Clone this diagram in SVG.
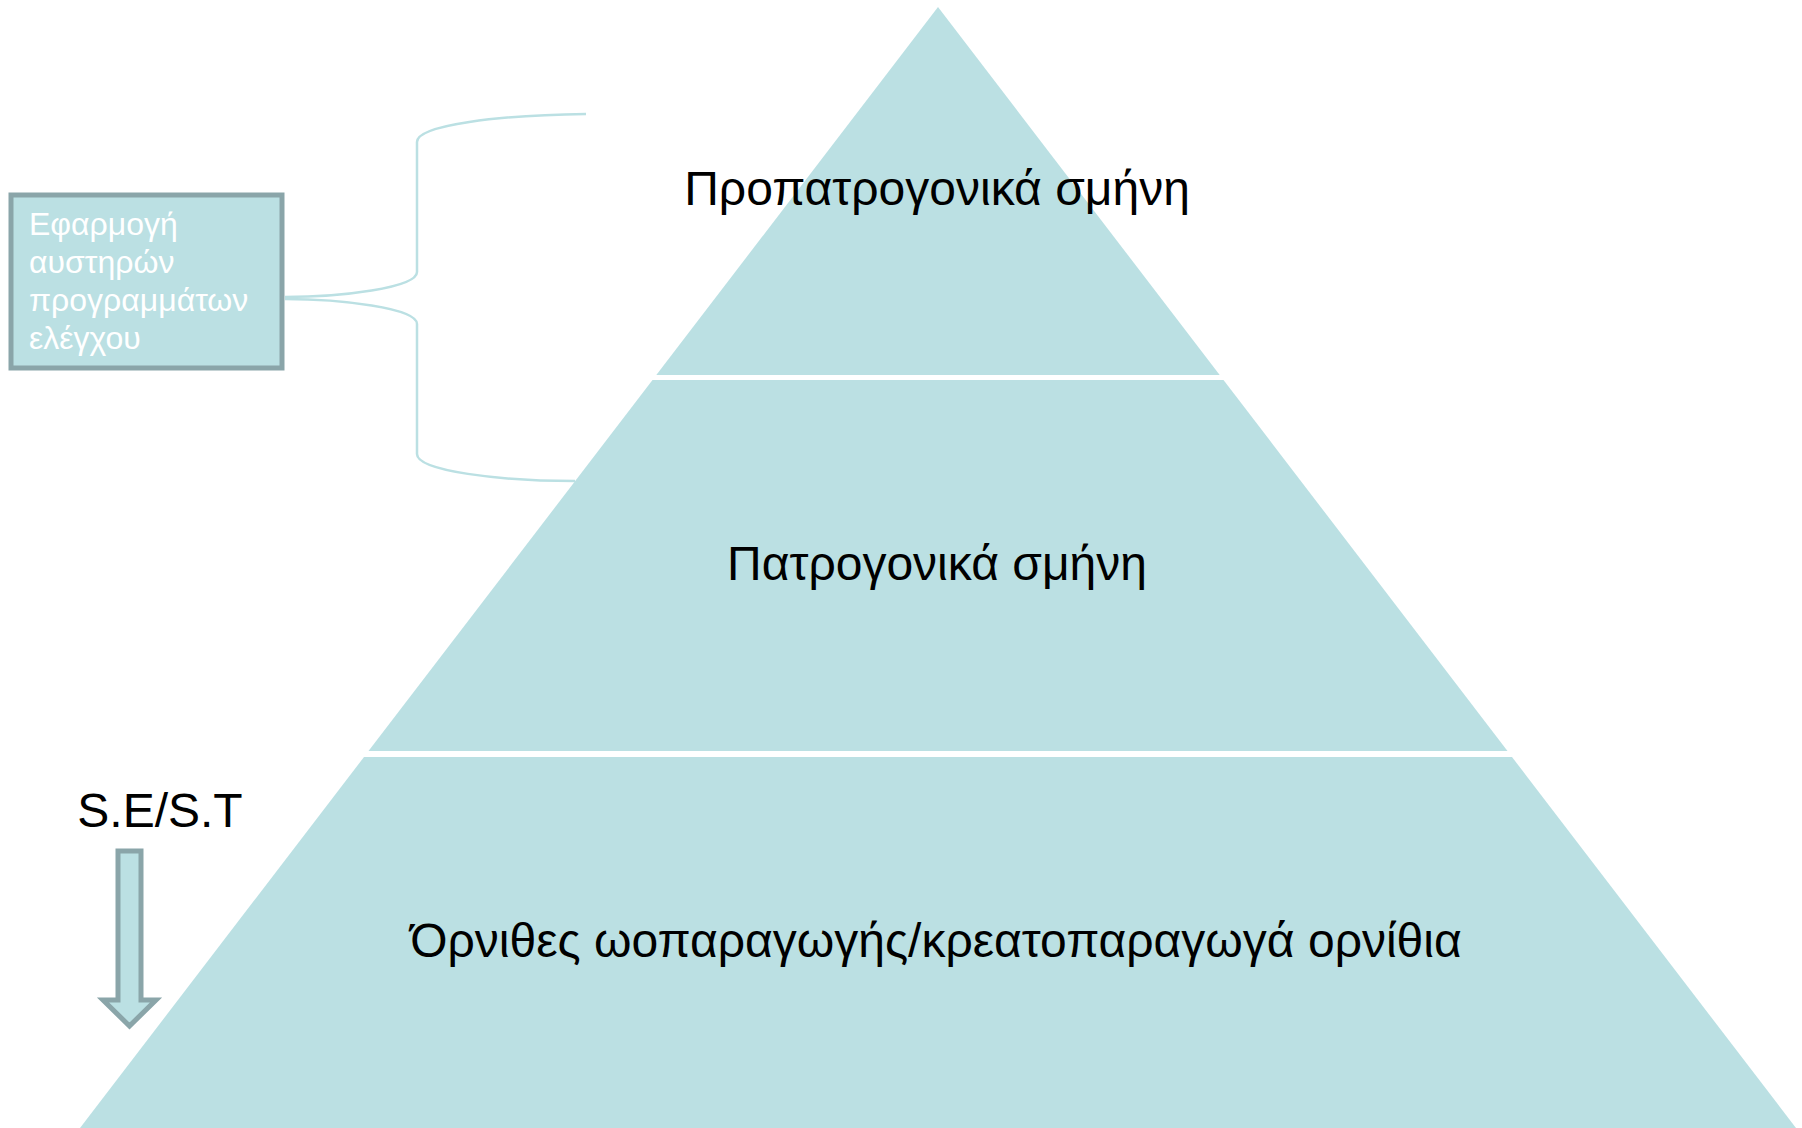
<svg xmlns="http://www.w3.org/2000/svg" width="1802" height="1128" viewBox="0 0 1802 1128">
<style>
.tier{fill:#BBE0E3;}
.lbl{font-family:"Liberation Sans",Arial,sans-serif;font-size:48px;fill:#000;text-anchor:middle;}
.box{fill:#BBE0E3;stroke:#8AA5A9;stroke-width:5;}
.boxt{font-family:"Liberation Sans",Arial,sans-serif;font-size:32px;fill:#FFFFFF;}
.brace{fill:none;stroke:#BBE0E3;stroke-width:2.5;}
.arrow{fill:#BBE0E3;stroke:#8AA5A9;stroke-width:5;stroke-linejoin:miter;}
</style>
<rect width="1802" height="1128" fill="#FFFFFF"/>
<g id="tier-top">
<polygon class="tier" points="938,7 1219.7,375 656.3,375"/>
<text class="lbl" x="937" y="205">Προπατρογονικά σμήνη</text>
</g>
<g id="tier-middle">
<polygon class="tier" points="652.5,380 1223.5,380 1507.5,751 368.5,751"/>
<text class="lbl" x="937" y="580">Πατρογονικά σμήνη</text>
</g>
<g id="tier-bottom">
<polygon class="tier" points="364,757 1512,757 1796,1128 80,1128"/>
<text class="lbl" x="936" y="957">Όρνιθες ωοπαραγωγής/κρεατοπαραγωγά ορνίθια</text>
</g>
<g id="control-box">
<rect class="box" x="11" y="195" width="271" height="173"/>
<text class="boxt" x="29" y="235">Εφαρμογή</text>
<text class="boxt" x="29" y="273">αυστηρών</text>
<text class="boxt" x="29" y="311">προγραμμάτων</text>
<text class="boxt" x="29" y="349">ελέγχου</text>
</g>
<g id="set-label">
<text class="lbl" x="160" y="827">S.E/S.T</text>
<polygon class="arrow" points="118,851 141,851 141,1000 156,1000 129.5,1026 103,1000 118,1000"/>
</g>
<g id="connectors">
<path class="brace" d="M586,114 C500,115 417,125 417,142 L417,272 C417,288 340,297 285,297"/>
<path class="brace" d="M285,299 C340,299 417,308 417,324 L417,454 C417,471 500,481 575,481"/>
</g>
</svg>
